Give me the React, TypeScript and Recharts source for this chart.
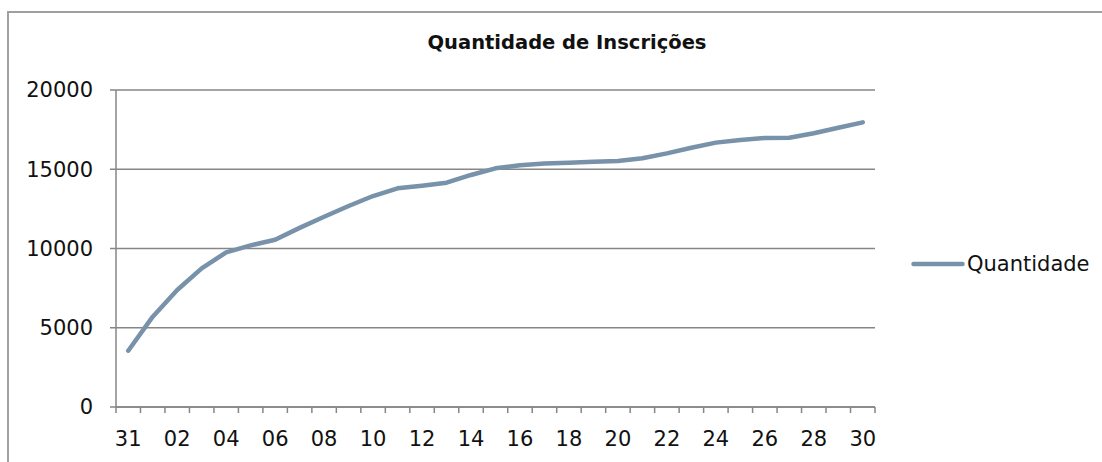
import React from 'react';
import { LineChart, Line, XAxis, YAxis, CartesianGrid, Legend } from 'recharts';

const days = ['31', '01', '02', '03', '04', '05', '06', '07', '08', '09', '10', '11', '12', '13', '14', '15',
  '16', '17', '18', '19', '20', '21', '22', '23', '24', '25', '26', '27', '28', '29', '30'];
const quantidade = [3550, 5700, 7380, 8750, 9760, 10200, 10550, 11300, 12000, 12680, 13310, 13800, 13960, 14150,
  14640, 15060, 15250, 15370, 15410, 15480, 15520, 15690, 16000, 16360, 16680, 16850, 16970, 16990, 17270, 17620, 17960];
const yTicks = [0, 5000, 10000, 15000, 20000];

const data = days.map((d, i) => ({ idx: i, day: d, Quantidade: quantidade[i] }));
// Excel style: tick marks sit between categories, labels on every other category
const boundaryTicks = Array.from({ length: days.length + 1 }, (_, i) => i - 0.5);
const labelTicks = days.map((_, i) => i).filter((i) => i % 2 === 0);

const FONT = '"DejaVu Sans", sans-serif';
const AXIS = '#868686';
const LINE = '#7892aa';

const LegendBox = () => (
  <div style={{ display: 'flex', alignItems: 'center', fontFamily: FONT, fontSize: 21, color: '#111' }}>
    <svg width={56} height={24}>
      <line x1={3.5} y1={12} x2={52.5} y2={12} stroke={LINE} strokeWidth={4.5} strokeLinecap="round" />
    </svg>
    <span style={{ marginLeft: 1 }}>Quantidade</span>
  </div>
);

const App: React.FC = () => {
  return (
    <div style={{ position: 'absolute', left: 0, top: 0, width: 1102, height: 462, overflow: 'hidden', background: '#fff' }}>
      <div
        style={{
          position: 'absolute', left: 7, top: 11, width: 1200, height: 600,
          border: '2px solid #a0a0a0', boxSizing: 'border-box',
        }}
      />
      <div
        style={{
          position: 'absolute', left: 367, width: 400, top: 31, textAlign: 'center',
          fontFamily: FONT, fontWeight: 'bold', fontSize: 19.5, color: '#111', lineHeight: '24px',
        }}
      >
        Quantidade de Inscrições
      </div>
      <div style={{ position: 'absolute', left: 0, top: 0 }}>
        <LineChart width={1102} height={462} data={data} margin={{ top: 90, right: 227, left: 0, bottom: 0 }}>
          <CartesianGrid xAxisId={0} vertical={false} stroke={AXIS} strokeWidth={1.5} />
          <XAxis
            xAxisId={0}
            type="number"
            dataKey="idx"
            domain={[-0.5, days.length - 0.5]}
            ticks={boundaryTicks}
            interval={0}
            tickFormatter={() => ''}
            tickSize={6}
            height={10}
            stroke={AXIS}
            strokeWidth={1.5}
          />
          <XAxis
            xAxisId={1}
            type="number"
            dataKey="idx"
            domain={[-0.5, days.length - 0.5]}
            ticks={labelTicks}
            interval={0}
            tickFormatter={(v) => days[v]}
            axisLine={false}
            tickLine={false}
            tickSize={0}
            tickMargin={14}
            height={45}
            tick={{ fill: '#111', fontSize: 21, fontFamily: FONT }}
          />
          <YAxis
            domain={[0, 20000]}
            ticks={yTicks}
            interval={0}
            width={116}
            tickSize={6}
            tickMargin={17}
            stroke={AXIS}
            strokeWidth={1.5}
            tick={{ fill: '#111', fontSize: 21, fontFamily: FONT }}
          />
          <Legend
            layout="horizontal"
            align="center"
            verticalAlign="middle"
            content={<LegendBox />}
            wrapperStyle={{ position: 'absolute', left: 910, top: 252, width: 190 }}
          />
          <Line
            xAxisId={0}
            type="linear"
            dataKey="Quantidade"
            stroke={LINE}
            strokeWidth={4.5}
            strokeLinecap="round"
            strokeLinejoin="round"
            dot={false}
            isAnimationActive={false}
          />
        </LineChart>
      </div>
    </div>
  );
};

export default App;
